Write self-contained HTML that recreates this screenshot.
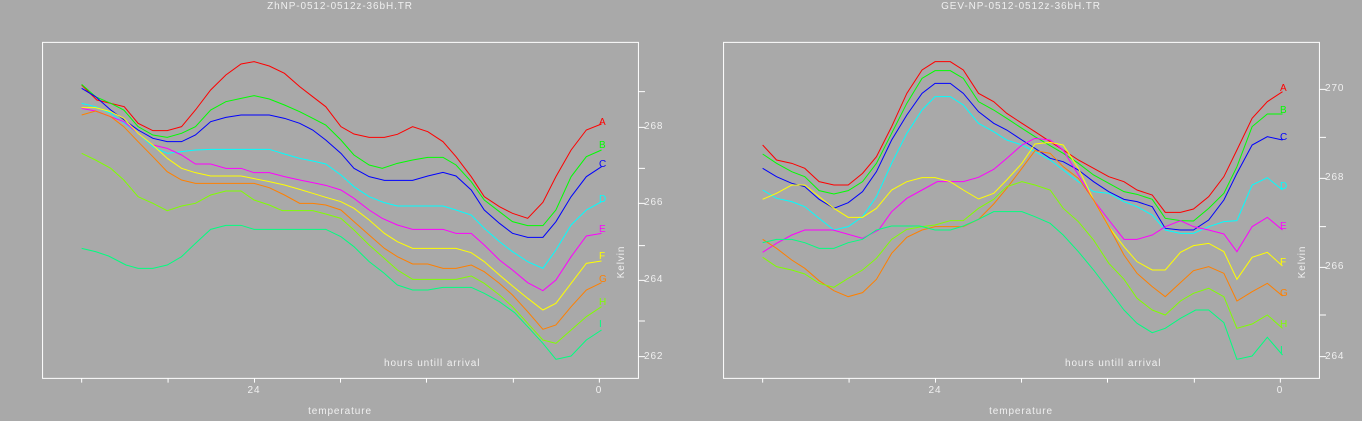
<!DOCTYPE html>
<html><head><meta charset="utf-8"><style>
body{margin:0;background:#a9a9a9;width:1362px;height:421px;overflow:hidden;position:relative;font-family:"Liberation Sans",sans-serif;color:#f0f0f0;font-size:10px}
.p{position:absolute;top:0;width:681px;height:421px}
.p svg{position:absolute;left:0;top:0}
.t{position:absolute;white-space:nowrap;line-height:10px;letter-spacing:0.9px}
.c{transform:translateX(-50%)}
polyline{fill:none;stroke-width:1}
</style></head><body>

<div class="p" style="left:0">
<svg width="681" height="421" viewBox="0 0 1568 1263" preserveAspectRatio="none">
<rect x="98" y="127" width="1372" height="1008" fill="none" stroke="#fff" stroke-width="1" vector-effect="non-scaling-stroke"/>
<path d="M188 1135V1148M387 1135V1148M586 1135V1148M784 1135V1148M982 1135V1148M1182 1135V1148M1380 1135V1148M1470 275H1485M1470 382H1485M1470 505H1485M1470 610H1485M1470 737H1485M1470 841H1485M1470 963H1485M1470 1070H1485" stroke="#fff" vector-effect="non-scaling-stroke"/>
<polyline vector-effect="non-scaling-stroke" stroke="#ff0000" points="188,255 223,300 286,320 318,370 352,392 385,392 418,380 450,330 485,270 520,225 555,192 585,185 620,198 655,220 690,260 720,290 750,320 785,380 815,402 850,412 885,412 915,403 950,380 985,395 1020,425 1050,470 1085,530 1115,590 1150,620 1180,640 1215,655 1250,607 1280,530 1315,450 1350,390 1385,372"/>
<polyline vector-effect="non-scaling-stroke" stroke="#00ff00" points="188,253 220,290 255,310 285,330 318,380 352,405 385,412 418,400 450,380 485,330 520,305 555,295 585,287 620,297 655,315 690,335 720,355 750,375 785,420 815,465 850,495 880,505 915,490 950,480 985,472 1020,472 1050,495 1085,545 1115,600 1150,635 1180,665 1215,677 1250,677 1280,630 1315,530 1350,470 1385,450"/>
<polyline vector-effect="non-scaling-stroke" stroke="#0000ff" points="188,265 220,290 255,330 318,390 352,415 385,425 418,425 450,405 485,365 520,352 555,345 620,345 655,355 690,370 720,390 750,420 785,460 815,505 850,530 885,541 950,541 985,528 1020,517 1050,528 1085,570 1115,630 1150,670 1180,700 1215,712 1250,712 1280,665 1315,590 1350,530 1385,500"/>
<polyline vector-effect="non-scaling-stroke" stroke="#00ffff" points="188,310 220,320 255,340 318,400 352,440 385,460 418,455 450,450 485,448 620,448 655,462 690,475 720,483 750,492 785,525 815,560 850,590 885,608 915,618 1020,618 1050,630 1085,645 1115,685 1150,725 1180,755 1215,785 1250,805 1280,750 1315,675 1350,630 1385,605"/>
<polyline vector-effect="non-scaling-stroke" stroke="#ff00ff" points="188,325 220,333 255,350 285,365 318,400 352,435 385,445 418,465 450,492 485,492 520,505 555,505 585,518 620,518 655,530 690,540 720,548 750,556 785,570 815,595 850,630 880,655 915,675 950,688 1020,688 1050,700 1085,700 1115,735 1150,780 1180,810 1215,848 1250,872 1280,840 1315,770 1350,708 1385,700"/>
<polyline vector-effect="non-scaling-stroke" stroke="#ffff00" points="188,323 220,323 255,335 285,355 318,400 352,435 385,475 418,505 450,518 485,528 555,528 620,545 655,555 690,568 720,580 750,592 785,605 815,625 850,660 885,700 915,725 950,745 1050,745 1085,758 1115,785 1150,825 1180,858 1215,895 1250,930 1280,910 1315,850 1350,790 1385,783"/>
<polyline vector-effect="non-scaling-stroke" stroke="#ff8000" points="188,345 220,333 255,350 285,380 318,425 352,470 385,515 418,540 450,550 585,550 620,563 655,585 690,610 720,610 750,615 785,630 815,665 850,705 885,745 915,770 950,792 985,792 1020,805 1050,805 1085,795 1115,815 1150,850 1180,885 1215,935 1250,988 1280,975 1315,920 1350,870 1385,848"/>
<polyline vector-effect="non-scaling-stroke" stroke="#80ff00" points="188,460 220,480 255,505 285,540 318,590 352,610 385,632 418,618 450,610 485,585 520,573 555,573 585,600 620,615 650,632 720,632 750,642 785,655 815,690 850,735 885,775 915,810 950,838 1050,838 1085,828 1115,850 1150,885 1180,920 1215,970 1250,1020 1280,1030 1315,990 1350,950 1385,920"/>
<polyline vector-effect="non-scaling-stroke" stroke="#00ff80" points="188,745 220,755 250,768 290,795 318,805 352,805 385,795 418,770 450,730 485,688 520,676 555,676 585,688 750,688 785,710 815,740 850,785 885,820 915,855 950,870 985,870 1020,862 1085,862 1115,880 1150,905 1185,938 1215,980 1250,1030 1280,1078 1315,1068 1350,1020 1385,990"/>
</svg>
<div class="t c" style="left:340px;top:2px">ZhNP-0512-0512z-36bH.TR</div>
<div class="t c" style="left:254px;top:386px">24</div>
<div class="t c" style="left:599px;top:386px">0</div>
<div class="t c" style="left:340px;top:407px">temperature</div>
<div class="t" style="left:384px;top:359px">hours untill arrival</div>
<div class="t c" style="left:622px;top:257px;transform:translateX(-50%) rotate(-90deg)">Kelvin</div>
<div class="t" style="left:644px;top:122px">268</div>
<div class="t" style="left:644px;top:198px">266</div>
<div class="t" style="left:644px;top:275px">264</div>
<div class="t" style="left:644px;top:352px">262</div>
<div class="t" style="left:599px;top:118px;color:#ff0000">A</div>
<div class="t" style="left:599px;top:141px;color:#00ff00">B</div>
<div class="t" style="left:599px;top:160px;color:#0000ff">C</div>
<div class="t" style="left:599px;top:195px;color:#00ffff">D</div>
<div class="t" style="left:599px;top:225px;color:#ff00ff">E</div>
<div class="t" style="left:599px;top:252px;color:#ffff00">F</div>
<div class="t" style="left:599px;top:275px;color:#ff8000">G</div>
<div class="t" style="left:599px;top:298px;color:#80ff00">H</div>
<div class="t" style="left:599px;top:320px;color:#00ff80">I</div>
</div>

<div class="p" style="left:681px">
<svg width="681" height="421" viewBox="0 0 1568 1263" preserveAspectRatio="none">
<rect x="98" y="127" width="1372" height="1008" fill="none" stroke="#fff" stroke-width="1" vector-effect="non-scaling-stroke"/>
<path d="M188 1135V1148M387 1135V1148M586 1135V1148M784 1135V1148M982 1135V1148M1182 1135V1148M1380 1135V1148M1470 268H1485M1470 412H1485M1470 535H1485M1470 680H1485M1470 802H1485M1470 945H1485M1470 1070H1485" stroke="#fff" vector-effect="non-scaling-stroke"/>
<polyline vector-effect="non-scaling-stroke" stroke="#ff0000" points="188,435 220,480 255,490 285,505 318,545 352,555 385,555 418,520 450,470 485,380 520,280 555,210 585,185 620,185 650,210 685,280 720,305 750,340 785,370 815,395 850,425 880,450 915,480 950,505 985,530 1020,545 1050,570 1085,585 1115,637 1150,637 1180,627 1215,590 1250,530 1280,450 1315,355 1350,305 1385,275"/>
<polyline vector-effect="non-scaling-stroke" stroke="#00ff00" points="188,462 220,490 255,515 285,530 318,572 352,582 385,572 418,545 450,490 485,400 520,310 555,235 585,212 620,212 650,235 685,305 720,330 750,355 785,385 815,410 850,437 880,460 915,490 950,525 985,550 1020,575 1050,583 1085,598 1115,655 1150,662 1180,663 1215,625 1250,580 1280,500 1315,380 1350,342 1385,342"/>
<polyline vector-effect="non-scaling-stroke" stroke="#0000ff" points="188,505 220,530 255,550 285,560 318,598 352,625 385,608 418,575 450,515 485,420 520,345 555,280 585,250 620,250 650,280 685,335 720,370 750,390 785,420 815,445 850,475 880,485 915,510 950,545 985,575 1020,598 1050,605 1085,620 1115,685 1150,690 1180,690 1215,660 1250,600 1280,520 1315,435 1350,410 1385,420"/>
<polyline vector-effect="non-scaling-stroke" stroke="#00ffff" points="188,570 220,595 255,605 285,620 318,655 352,690 385,680 418,650 450,590 485,490 520,400 555,330 585,290 620,290 650,315 685,370 720,395 750,420 785,435 815,455 850,480 880,510 915,545 950,575 985,580 1020,605 1050,620 1085,645 1115,690 1150,700 1180,700 1215,680 1250,665 1280,662 1315,555 1350,533 1385,570"/>
<polyline vector-effect="non-scaling-stroke" stroke="#ff00ff" points="188,757 220,730 255,705 285,690 350,690 418,715 455,690 485,635 520,595 555,570 590,545 650,545 685,532 720,508 750,475 785,435 815,415 850,420 880,450 915,525 950,600 985,660 1020,718 1050,718 1085,705 1115,680 1150,662 1180,680 1215,690 1250,702 1280,755 1315,680 1350,652 1385,690"/>
<polyline vector-effect="non-scaling-stroke" stroke="#ffff00" points="188,598 220,580 255,555 285,555 318,590 352,625 385,652 418,652 450,625 485,570 520,545 555,533 585,533 620,545 650,570 685,597 720,580 750,540 785,490 815,432 850,427 880,435 915,505 950,600 985,680 1020,740 1050,785 1085,810 1115,810 1150,757 1180,737 1215,730 1250,755 1280,838 1315,772 1350,757 1385,798"/>
<polyline vector-effect="non-scaling-stroke" stroke="#ff8000" points="188,718 220,745 255,780 285,805 318,842 352,872 385,890 418,878 450,838 485,760 520,712 555,690 585,680 650,680 685,658 720,612 750,565 785,505 815,452 850,460 880,500 915,535 950,600 985,680 1020,765 1050,820 1085,860 1115,890 1150,848 1180,812 1215,800 1250,820 1280,903 1315,875 1350,850 1385,888"/>
<polyline vector-effect="non-scaling-stroke" stroke="#80ff00" points="188,772 220,800 255,810 285,822 318,850 352,862 385,835 418,810 450,775 485,718 520,688 555,680 585,675 620,662 650,662 685,625 720,598 750,560 785,545 815,555 850,570 880,625 915,665 950,720 985,790 1020,838 1050,895 1085,930 1115,945 1150,903 1180,880 1215,865 1250,890 1280,985 1315,972 1350,945 1385,985"/>
<polyline vector-effect="non-scaling-stroke" stroke="#00ff80" points="188,728 220,718 255,718 285,728 318,745 352,745 385,728 418,718 450,690 485,678 550,678 585,690 620,690 650,678 685,658 720,635 785,635 815,650 850,670 880,705 915,755 950,810 985,870 1020,930 1050,970 1085,998 1115,985 1150,955 1185,930 1215,930 1250,968 1280,1078 1315,1068 1350,1012 1385,1065"/>
</svg>
<div class="t c" style="left:340px;top:2px">GEV-NP-0512-0512z-36bH.TR</div>
<div class="t c" style="left:254px;top:386px">24</div>
<div class="t c" style="left:599px;top:386px">0</div>
<div class="t c" style="left:340px;top:407px">temperature</div>
<div class="t" style="left:384px;top:359px">hours untill arrival</div>
<div class="t c" style="left:622px;top:257px;transform:translateX(-50%) rotate(-90deg)">Kelvin</div>
<div class="t" style="left:644px;top:84px">270</div>
<div class="t" style="left:644px;top:173px">268</div>
<div class="t" style="left:644px;top:262px">266</div>
<div class="t" style="left:644px;top:352px">264</div>
<div class="t" style="left:599px;top:84px;color:#ff0000">A</div>
<div class="t" style="left:599px;top:106px;color:#00ff00">B</div>
<div class="t" style="left:599px;top:133px;color:#0000ff">C</div>
<div class="t" style="left:599px;top:182px;color:#00ffff">D</div>
<div class="t" style="left:599px;top:222px;color:#ff00ff">E</div>
<div class="t" style="left:599px;top:258px;color:#ffff00">F</div>
<div class="t" style="left:599px;top:289px;color:#ff8000">G</div>
<div class="t" style="left:599px;top:320px;color:#80ff00">H</div>
<div class="t" style="left:599px;top:346px;color:#00ff80">I</div>
</div>
</body></html>
